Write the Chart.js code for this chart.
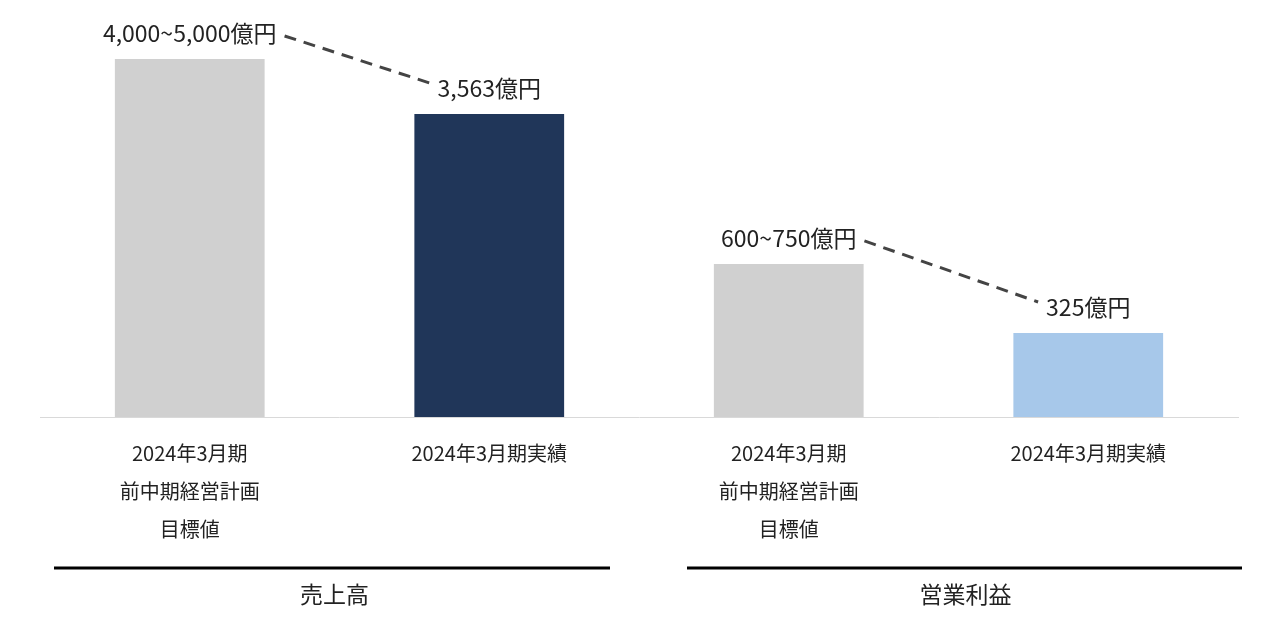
<!DOCTYPE html>
<html><head><meta charset="utf-8">
<script src="https://cdn.jsdelivr.net/npm/chart.js@4/dist/chart.umd.min.js"></script>
<style>html,body{margin:0;background:#fff}#wrap{width:1280px;height:619px}</style>
</head><body><div id="wrap"><canvas id="c"></canvas></div>
<script>
// bar heights are read off the picture (the bars are not drawn to one scale)
const categories = [
  ['2024年3月期', '前中期経営計画', '目標値'],
  '2024年3月期実績',
  ['2024年3月期', '前中期経営計画', '目標値'],
  '2024年3月期実績'
];
const barValues = [4210, 3563, 1800, 988];
const valueLabels = ['4,000~5,000億円', '3,563億円', '600~750億円', '325億円'];
const barColors = ['#d0d0d0', '#203659', '#d0d0d0', '#a7c8ea'];
const groups = [{name: '売上高', from: 0, to: 1}, {name: '営業利益', from: 2, to: 3}];
const font = "'Noto Sans CJK JP', 'Noto Sans', sans-serif";

// insets of the group underlines relative to the category edges, and name offsets
const lineInsets = [[14, -29], [48, 4]];
const nameShift = [-5, 27];

const overlay = {
  id: 'overlay',
  afterDatasetsDraw(chart) {
    const ctx = chart.ctx;
    const bars = chart.getDatasetMeta(0).data;
    ctx.save();
    ctx.font = '23px ' + font;
    ctx.fillStyle = '#222';
    ctx.textAlign = 'center';
    ctx.textBaseline = 'middle';
    const boxes = bars.map((b, i) => {
      const y = b.y - 26;
      const w = ctx.measureText(valueLabels[i]).width;
      ctx.fillText(valueLabels[i], b.x, y);
      return {l: b.x - w / 2, r: b.x + w / 2, y};
    });
    ctx.strokeStyle = '#444';
    ctx.lineWidth = 3;
    ctx.setLineDash([12, 8]);
    for (const g of groups) {
      const a = boxes[g.from], b = boxes[g.to];
      ctx.beginPath();
      ctx.moveTo(a.r + 8, a.y + 3);
      ctx.lineTo(b.l - 8, b.y - 5);
      ctx.stroke();
    }
    ctx.setLineDash([]);
    ctx.strokeStyle = '#000';
    ctx.lineWidth = 3;
    const half = (bars[1].x - bars[0].x) / 2;
    groups.forEach((g, k) => {
      const x0 = bars[g.from].x - half + lineInsets[k][0];
      const x1 = bars[g.to].x + half + lineInsets[k][1];
      ctx.beginPath();
      ctx.moveTo(x0, 568);
      ctx.lineTo(x1, 568);
      ctx.stroke();
      ctx.fillText(g.name, (bars[g.from].x + bars[g.to].x) / 2 + nameShift[k], 594);
    });
    ctx.restore();
  }
};

new Chart(document.getElementById('c'), {
  type: 'bar',
  data: {
    labels: categories,
    datasets: [{data: barValues, backgroundColor: barColors, categoryPercentage: 1, barPercentage: 0.5}]
  },
  options: {
    responsive: true,
    maintainAspectRatio: false,
    animation: false,
    layout: {padding: {left: 40, right: 42, top: 20, bottom: 0}},
    plugins: {legend: {display: false}, tooltip: {enabled: false}},
    scales: {
      y: {display: false, min: 0, max: 4668},
      x: {
        grid: {display: false},
        border: {color: '#d9d9d9', width: 1},
        ticks: {color: '#222', font: {family: font, size: 20, lineHeight: 1.9}, padding: 9, maxRotation: 0},
        afterFit(scale) { scale.height = 202; }
      }
    }
  },
  plugins: [overlay]
});
</script></body></html>
